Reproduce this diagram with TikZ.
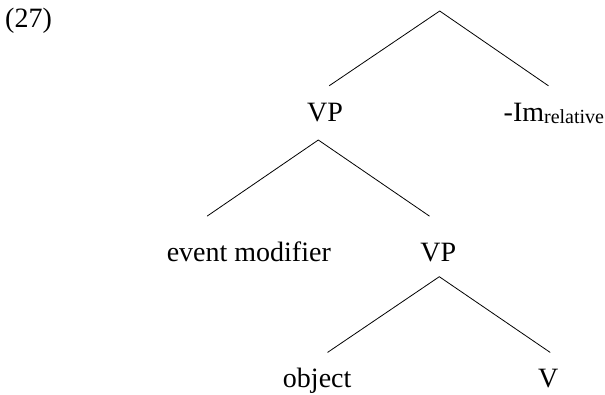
\documentclass[tikz,border=0pt]{standalone}
\usepackage{fontspec}
\setmainfont{Liberation Serif}
\begin{document}
\begin{tikzpicture}[x=1pt,y=-1pt,
  lbl/.style={anchor=base, inner sep=0pt, font=\fontsize{28}{32}\selectfont},
  branch/.style={line width=0.8pt, line cap=round}]
\useasboundingbox (0,0) rectangle (605,394);
% example number
\node[lbl, anchor=base west] (num) at (5,27) {(27)};
% tree 1
\coordinate (t1) at (439.7,11);
\coordinate (t1l) at (329.3,85.7);
\coordinate (t1r) at (548.3,85.7);
\node[lbl] (vp1) at (325,121.7) {VP};
\node[lbl, anchor=base west] (im) at (503.5,121.7) {-Im\raisebox{-2pt}{\fontsize{20}{21}\selectfont relative}};
\draw[branch] (t1l) -- (t1) -- (t1r);
% tree 2
\coordinate (t2) at (318.3,140);
\coordinate (t2l) at (207.3,216);
\coordinate (t2r) at (429.3,216);
\node[lbl] (em) at (248.8,261.7) {event modifier};
\node[lbl] (vp2) at (438.3,261.7) {VP};
\draw[branch] (t2l) -- (t2) -- (t2r);
% tree 3
\coordinate (t3) at (439.3,276.7);
\coordinate (t3l) at (327.7,352.3);
\coordinate (t3r) at (550,352.3);
\node[lbl] (obj) at (317.2,387.5) {object};
\node[lbl] (v) at (548.3,387.5) {V};
\draw[branch] (t3l) -- (t3) -- (t3r);
\end{tikzpicture}
\end{document}
